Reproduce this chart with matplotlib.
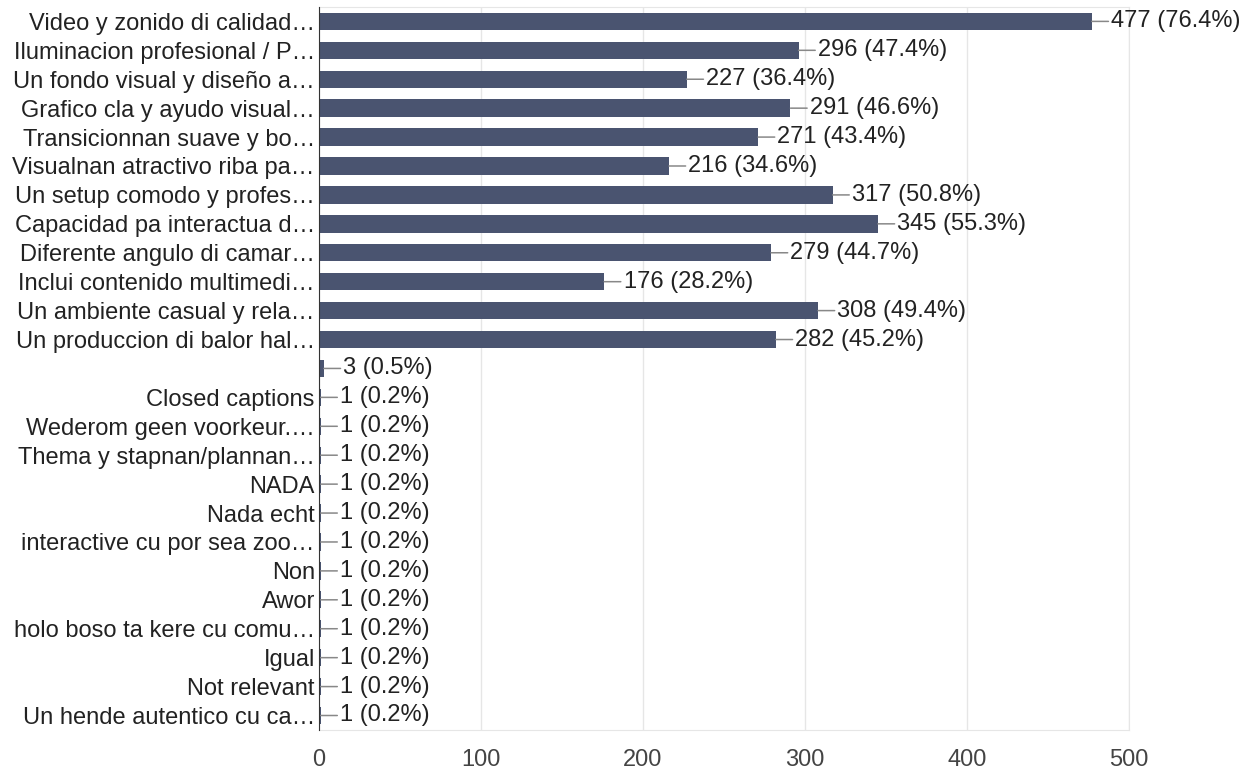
import matplotlib.pyplot as plt

# answers, counts and shares as shown on the chart
labels = ["Video y zonido di calidad…", "Iluminacion profesional / P…",
          "Un fondo visual y diseño a…", "Grafico cla y ayudo visual…",
          "Transicionnan suave y bo…", "Visualnan atractivo riba pa…",
          "Un setup comodo y profes…", "Capacidad pa interactua d…",
          "Diferente angulo di camar…", "Inclui contenido multimedi…",
          "Un ambiente casual y rela…", "Un produccion di balor hal…",
          "", "Closed captions", "Wederom geen voorkeur.…",
          "Thema y stapnan/plannan…", "NADA", "Nada echt",
          "interactive cu por sea zoo…", "Non", "Awor",
          "holo boso ta kere cu comu…", "Igual", "Not relevant",
          "Un hende autentico cu ca…"]
counts = [477, 296, 227, 291, 271, 216, 317, 345, 279, 176, 308, 282,
          3, 1, 1, 1, 1, 1, 1, 1, 1, 1, 1, 1, 1]
percents = [76.4, 47.4, 36.4, 46.6, 43.4, 34.6, 50.8, 55.3, 44.7, 28.2, 49.4, 45.2,
            0.5, 0.2, 0.2, 0.2, 0.2, 0.2, 0.2, 0.2, 0.2, 0.2, 0.2, 0.2, 0.2]
xticks = [0, 100, 200, 300, 400, 500]

plt.rcParams['font.family'] = ['Liberation Sans', 'DejaVu Sans']

fig = plt.figure(figsize=(12.52, 7.7), dpi=100)
ax = fig.add_axes([0.2548, 0.052, 0.6470, 0.939])

pos = list(range(len(labels)))
ax.barh(pos, counts, height=0.6, color='#4a5470', zorder=3)

for i in pos:
    ax.annotate(f"{counts[i]} ({percents[i]}%)", xy=(counts[i], i),
                xytext=(14, 0), textcoords='offset points',
                ha='left', va='center', fontsize=17, color='#222222',
                arrowprops=dict(arrowstyle='-', color='#888888', lw=1.1,
                                shrinkA=0, shrinkB=0),
                annotation_clip=False, zorder=4)

ax.set_ylim(len(labels) - 0.5, -0.5)
ax.set_xlim(0, 500)
ax.set_yticks(pos)
ax.set_yticklabels(labels, fontsize=17, color='#222222')
ax.set_xticks(xticks)
ax.set_xticklabels([str(t) for t in xticks], fontsize=17, color='#444444')
ax.tick_params(axis='y', length=0, pad=3)
ax.tick_params(axis='x', length=0, pad=14)
ax.grid(axis='x', color='#e6e6e6', lw=1, zorder=0)
for s in ['top', 'right', 'bottom']:
    ax.spines[s].set_color('#e6e6e6')
ax.spines['left'].set_color('#333333')
ax.spines['left'].set_zorder(5)

plt.savefig('out.png')
